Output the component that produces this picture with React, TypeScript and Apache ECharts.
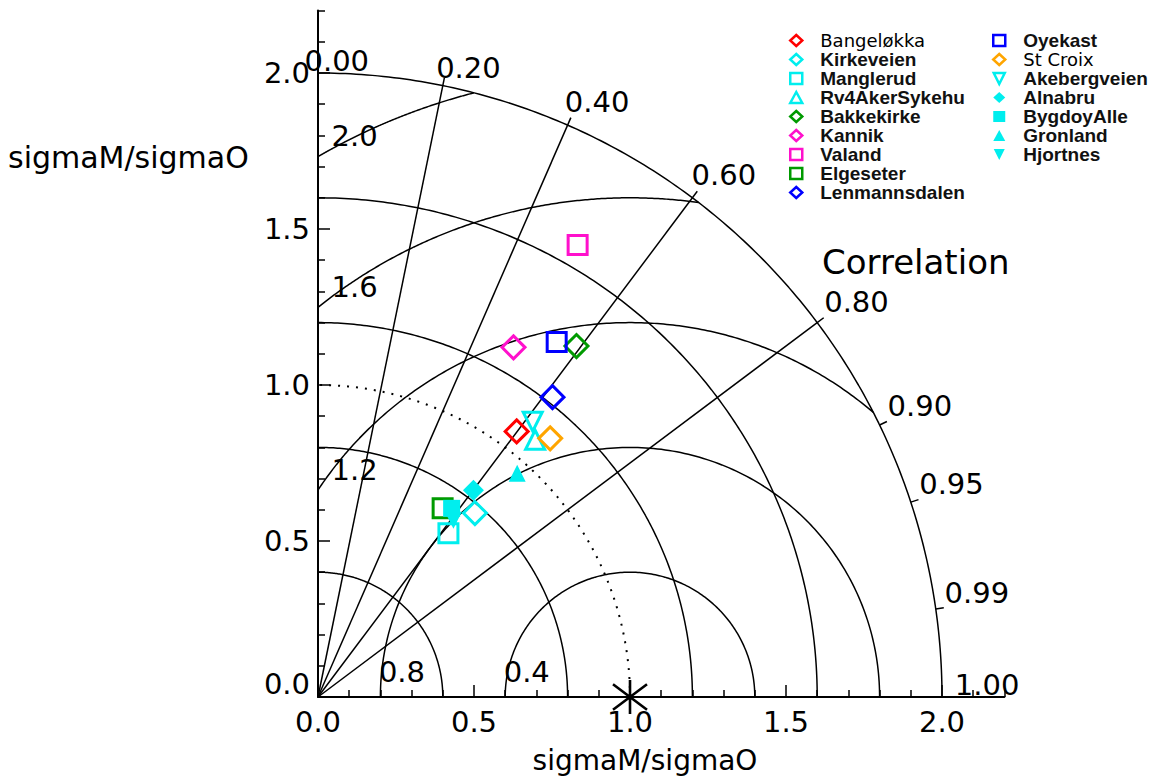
import React, { useEffect, useRef } from "react";
import * as echarts from "echarts";

// ---------- data ----------
const stations = [
  "Bangeløkka", "Kirkeveien", "Manglerud", "Rv4AkerSykehu", "Bakkekirke", "Kannik",
  "Valand", "Elgeseter", "Lenmannsdalen", "Oyekast", "St Croix", "Akebergveien",
  "Alnabru", "BygdoyAlle", "Gronland", "Hjortnes",
];
// normalised standard deviation (sigmaM/sigmaO)
const sigmaRatio = [
  1.063, 0.775, 0.671, 1.079, 1.397, 1.284,
  1.671, 0.725, 1.220, 1.371, 1.114, 1.119,
  0.829, 0.741, 0.960, 0.714,
];
// correlation coefficient
const correlation = [
  0.599, 0.649, 0.623, 0.645, 0.593, 0.488,
  0.498, 0.551, 0.616, 0.558, 0.668, 0.615,
  0.601, 0.578, 0.665, 0.608,
];
const legendCol1 = stations.slice(0, 9);
const legendCol2 = stations.slice(9);

const axisTickLabels = [0, 0.5, 1.0, 1.5, 2.0];
const stdArcs = [0.4, 0.8, 1.2, 1.6, 2.0];
const refStdArc = 1.0;
const rmsCircles = [0.4, 0.8, 1.2, 1.6, 2.0];
const corrRays = [0.2, 0.4, 0.6, 0.8];
const corrLabels = [0.0, 0.2, 0.4, 0.6, 0.8, 0.9, 0.95, 0.99, 1.0];
const reference = [1.0, 0.0];

// ---------- styles ----------
const RED = "#ff0000", CYAN = "#00eeee", GREEN = "#009a00", MAGENTA = "#ff10cc",
  BLUE = "#0000ff", ORANGE = "#ffa500";
const markerColor = [RED, CYAN, CYAN, CYAN, GREEN, MAGENTA, MAGENTA, GREEN, BLUE, BLUE, ORANGE, CYAN, CYAN, CYAN, CYAN, CYAN];
const markerShape = ["diamond", "diamond", "rect", "triangle", "diamond", "diamond", "rect", "rect", "diamond", "rect", "diamond", "triangle", "diamond", "rect", "triangle", "triangle"];
const markerRotate = [0, 0, 0, 0, 0, 0, 0, 0, 0, 0, 0, 180, 0, 0, 0, 180];
const markerFilled = [false, false, false, false, false, false, false, false, false, false, false, false, true, true, true, true];
const DOWN_TRIANGLE = "path://M0 0 L10 0 L5 10 Z";

const MAX = 2.2;
const OUTER = 2.0;
const FONT = "DejaVu Sans";

function seg(data: number[][], dashed = false) {
  return {
    type: "line",
    data,
    showSymbol: false,
    symbol: "none",
    silent: true,
    clip: false,
    z: 2,
    legendHoverLink: false,
    emphasis: { disabled: true },
    lineStyle: dashed
      ? { color: "#000", width: 2, type: [2, 7] }
      : { color: "#000", width: 1.5, type: "solid" },
  };
}

function buildOption() {
  const series: any[] = [];

  const arcPts = (r: number) => {
    const p: number[][] = [];
    for (let a = 0; a <= 90.0001; a += 0.5) {
      const t = (a * Math.PI) / 180;
      p.push([r * Math.cos(t), r * Math.sin(t)]);
    }
    return p;
  };
  stdArcs.forEach((r) => series.push(seg(arcPts(r))));
  series.push(seg(arcPts(refStdArc), true));

  rmsCircles.forEach((R) => {
    const t0 = Math.acos(Math.min(1, (OUTER * OUTER - 1 - R * R) / (2 * R)));
    const t1 = Math.acos(Math.max(-1, -1 / R));
    const p: number[][] = [];
    const n = 200;
    for (let i = 0; i <= n; i++) {
      const t = t0 + ((t1 - t0) * i) / n;
      p.push([reference[0] + R * Math.cos(t), Math.max(0, R * Math.sin(t))]);
    }
    series.push(seg(p));
  });

  corrRays.forEach((c) => {
    const s = Math.sqrt(1 - c * c);
    series.push(seg([[0, 0], [OUTER * c, OUTER * s]]));
  });
  corrLabels.forEach((c) => {
    if (c <= 0 || c >= 1) return;
    const s = Math.sqrt(1 - c * c);
    series.push(seg([[OUTER * c, OUTER * s], [2.026 * c, 2.026 * s]]));
  });

  series.push({
    type: "scatter",
    silent: true,
    symbolSize: 1,
    itemStyle: { color: "rgba(0,0,0,0)", opacity: 1 },
    z: 3,
    data: corrLabels.map((c) => {
      const s = Math.sqrt(1 - c * c);
      const r = 2.03;
      const dx = c < 0.1 ? -13 : c < 0.3 ? -8 : c < 0.7 ? -6 : c > 0.995 ? 4 : 0;
      const dy = c < 0.1 ? 12 : c < 0.3 ? 7 : c > 0.995 ? 3 : 0;
      return {
        value: [r * c, r * s],
        label: {
          show: true,
          formatter: c.toFixed(2),
          position: [0, 0],
          offset: [dx, dy],
          align: "left",
          verticalAlign: "bottom",
          fontFamily: FONT,
          fontSize: 29,
          color: "#000",
          opacity: 1,
        },
      };
    }),
  });

  series.push({
    type: "scatter",
    silent: true,
    symbolSize: 1,
    itemStyle: { color: "rgba(0,0,0,0)", opacity: 1 },
    z: 3,
    data: rmsCircles.map((R) => {
      const onX = reference[0] - R >= 0;
      const pt = onX ? [reference[0] - R, 0] : [0, Math.sqrt(R * R - reference[0] * reference[0])];
      return {
        value: pt,
        label: {
          show: true,
          formatter: R.toFixed(1),
          position: [0, 0],
          offset: onX ? [-1, -25] : [14, -20],
          align: "left",
          verticalAlign: "middle",
          fontFamily: FONT,
          fontSize: 29,
          color: "#000",
          opacity: 1,
        },
      };
    }),
  });

  series.push({
    type: "scatter",
    silent: true,
    data: [reference],
    symbol: "path://M0 -16 L0 16 M-12 -12 L12 12 M-12 12 L12 -12",
    symbolSize: 34,
    itemStyle: { color: "none", borderColor: "#000", borderWidth: 2.6, opacity: 1 },
    z: 10,
  });

  stations.forEach((name, i) => {
    const c = correlation[i];
    const s = sigmaRatio[i];
    const filled = markerFilled[i];
    const shape = markerShape[i];
    let size = 19;
    if (shape === "diamond") size = filled ? 21 : 23;
    if (shape === "rect") size = filled ? 17 : 19;
    if (shape === "triangle") size = filled ? 17 : 19;
    series.push({
      type: "scatter",
      name,
      data: [[s * c, s * Math.sqrt(1 - c * c)]],
      symbol: shape,
      symbolSize: size,
      symbolRotate: markerRotate[i],
      z: 6,
      itemStyle: filled
        ? { color: markerColor[i], borderWidth: 0, opacity: 1 }
        : { color: "rgba(255,255,255,0)", borderColor: markerColor[i], borderWidth: 3, opacity: 1 },
    });
  });

  const tick01: number[] = [];
  for (let k = 1; k <= 22; k++) if (k % 5 !== 0) tick01.push(k / 10);

  const fmt = (v: number) => v.toFixed(1);

  const baseAxis = {
    type: "value",
    min: 0,
    max: MAX,
    splitLine: { show: false },
  };

  const legendText = {
    fontFamily: "Liberation Sans",
    fontWeight: "bold",
    fontSize: 19,
    lineHeight: 19,
    color: "#111",
    padding: [0, 0, 0, 13],
    rich: { d: { fontFamily: FONT, fontWeight: "normal", fontSize: 18, lineHeight: 19, color: "#000" } },
  };
  const legendFmt = (name: string) =>
    name === "Bangeløkka" || name === "St Croix" ? `{d|${name}}` : name;
  const legendData = (names: string[]) =>
    names.map((n) => {
      const i = stations.indexOf(n);
      const item: any = { name: n };
      if (markerRotate[i] === 180) item.icon = DOWN_TRIANGLE;
      if (!markerFilled[i]) item.itemStyle = { borderWidth: 2.5 };
      return item;
    });

  const legendBase = {
    orient: "vertical",
    top: 31,
    padding: 0,
    itemWidth: 12,
    itemHeight: 11,
    itemGap: 0,
    selectedMode: false,
    formatter: legendFmt,
    textStyle: legendText,
  };

  return {
    animation: false,
    backgroundColor: "#fff",
    grid: { left: 318, top: 10.6, width: 686.4, height: 686.4 },
    xAxis: [
      {
        ...baseAxis,
        position: "bottom",
        interval: 0.5,
        axisLine: { show: true, lineStyle: { color: "#000", width: 2 } },
        axisTick: { show: true, inside: true, length: 12, customValues: axisTickLabels, lineStyle: { color: "#000", width: 1.5 } },
        axisLabel: { customValues: axisTickLabels, formatter: fmt, fontFamily: FONT, fontSize: 29, color: "#000", margin: 10 },
      },
      {
        ...baseAxis,
        position: "bottom",
        axisLine: { show: false },
        axisTick: { show: true, inside: true, length: 7, customValues: tick01, lineStyle: { color: "#000", width: 1.5 } },
        axisLabel: { show: false },
      },
    ],
    yAxis: [
      {
        ...baseAxis,
        position: "left",
        interval: 0.5,
        axisLine: { show: true, lineStyle: { color: "#000", width: 2 } },
        axisTick: { show: true, inside: true, length: 12, customValues: axisTickLabels, lineStyle: { color: "#000", width: 1.5 } },
        axisLabel: {
          customValues: axisTickLabels,
          formatter: (v: number) => (v === 0 ? "{z|0.0}" : fmt(v)),
          fontFamily: FONT,
          fontSize: 29,
          color: "#000",
          margin: 8,
          rich: { z: { fontFamily: FONT, fontSize: 29, color: "#000", padding: [0, 0, 26, 0] } },
        },
      },
      {
        ...baseAxis,
        position: "left",
        axisLine: { show: false },
        axisTick: { show: true, inside: true, length: 7, customValues: tick01, lineStyle: { color: "#000", width: 1.5 } },
        axisLabel: { show: false },
      },
    ],
    legend: [
      { ...legendBase, data: legendData(legendCol1), left: 789 },
      { ...legendBase, data: legendData(legendCol2), left: 992 },
    ],
    graphic: [
      { type: "text", x: 8, y: 157, style: { text: "sigmaM/sigmaO", font: `30px "${FONT}"`, fill: "#000", align: "left", verticalAlign: "middle" } },
      { type: "text", x: 645, y: 760, style: { text: "sigmaM/sigmaO", font: `28px "${FONT}"`, fill: "#000", align: "center", verticalAlign: "middle" } },
      { type: "text", x: 822, y: 262, style: { text: "Correlation", font: `34px "${FONT}"`, fill: "#000", align: "left", verticalAlign: "middle" } },
    ],
    series,
  };
}

export default function App() {
  const ref = useRef<HTMLDivElement>(null);
  useEffect(() => {
    document.body.style.margin = "0";
    if (!ref.current) return;
    const chart = echarts.init(ref.current, undefined, { renderer: "svg" });
    chart.setOption(buildOption() as any);
    return () => chart.dispose();
  }, []);
  return <div ref={ref} style={{ width: 1155, height: 779, background: "#fff" }} />;
}
